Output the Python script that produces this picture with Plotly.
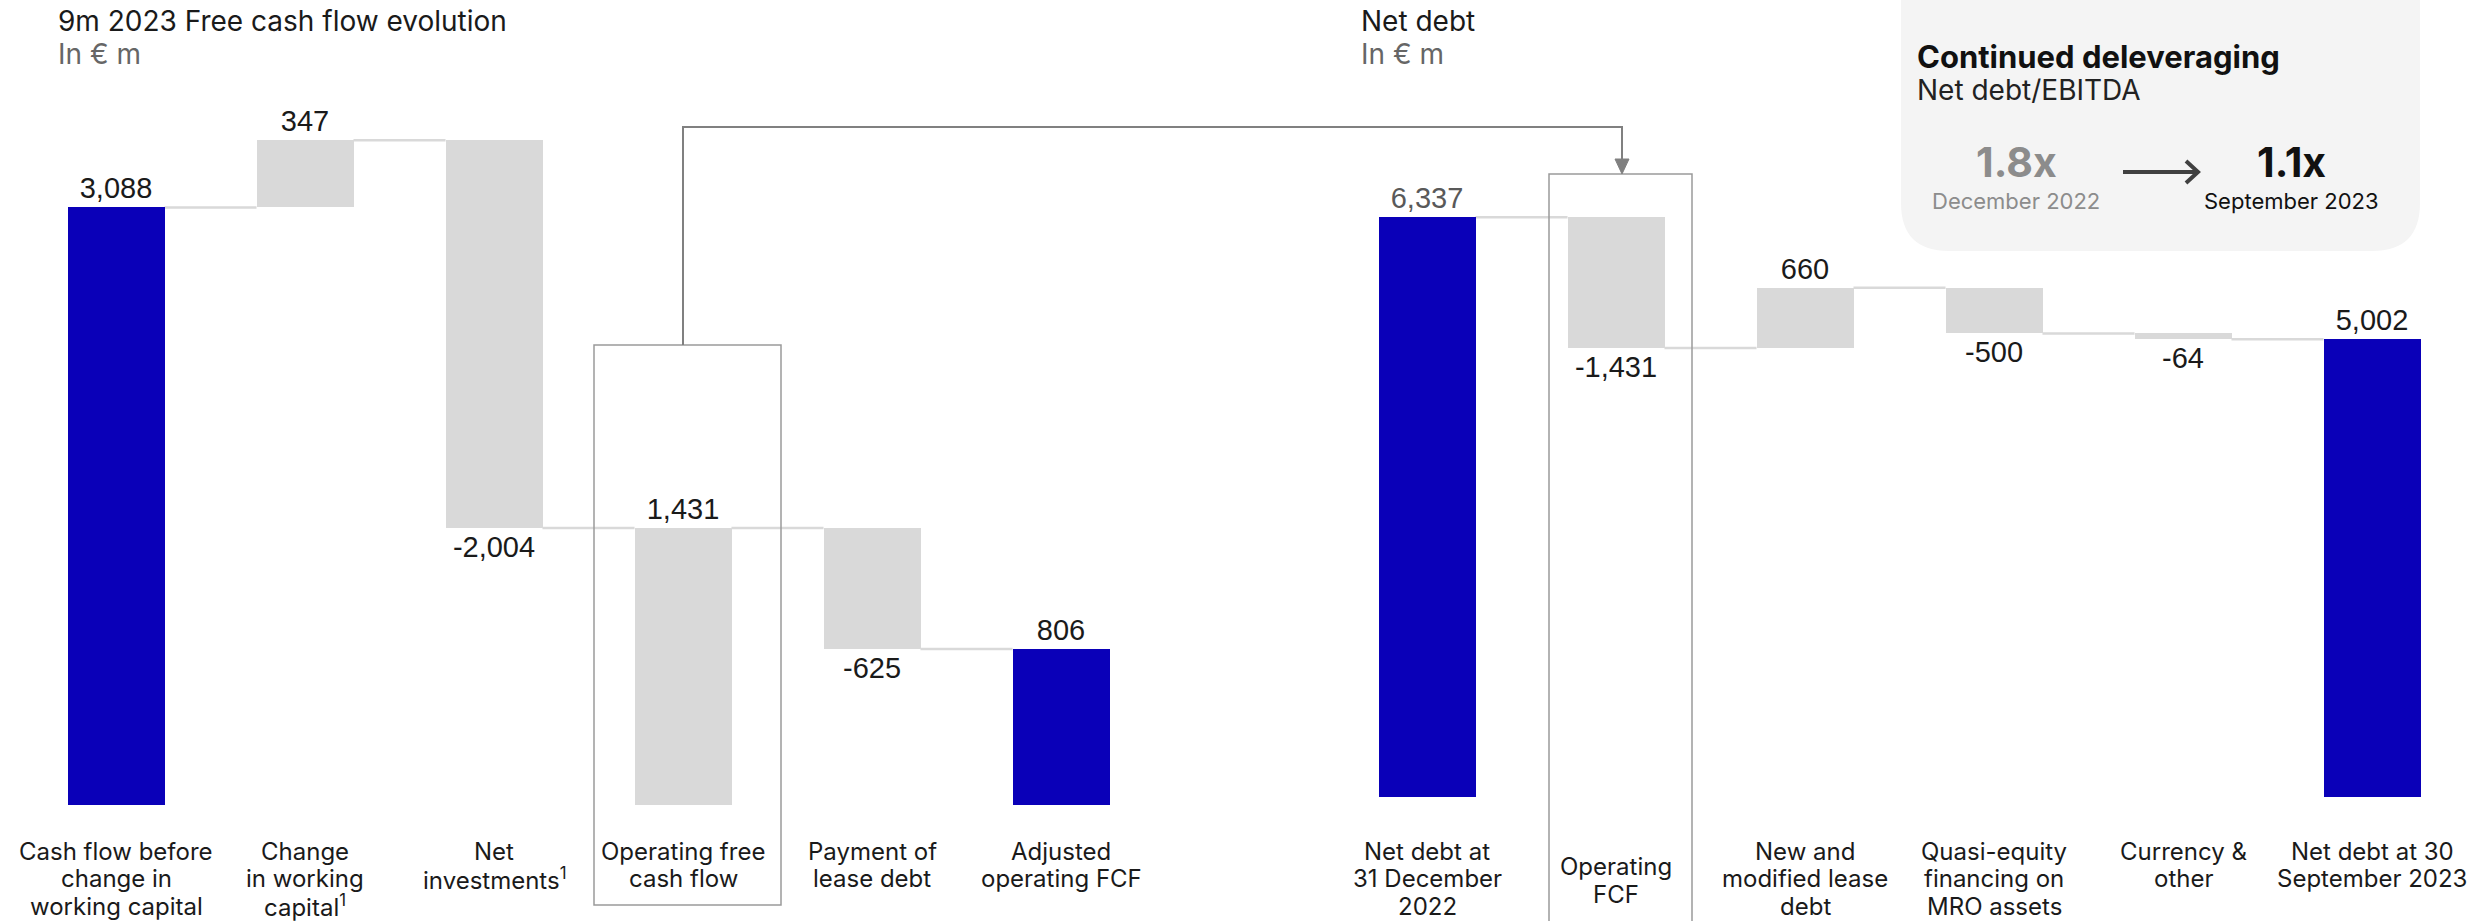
import plotly.graph_objects as go

# ---------------- data ----------------
fcf_labels = [
    "Cash flow before<br>change in<br>working capital",
    "Change<br>in working<br>capital<sup>1</sup>",
    "Net<br>investments<sup>1</sup>",
    "Operating free<br>cash flow",
    "Payment of<br>lease debt",
    "Adjusted<br>operating FCF",
]
fcf_values = [3088, 347, -2004, 1431, -625, 806]
fcf_measures = ["total", "relative", "relative", "total", "relative", "total"]

nd_labels = [
    "Net debt at<br>31 December<br>2022",
    "Operating<br>FCF",
    "New and<br>modified lease<br>debt",
    "Quasi-equity<br>financing on<br>MRO assets",
    "Currency &<br>other",
    "Net debt at 30<br>September 2023",
]
nd_values = [6337, -1431, 660, -500, -64, 5002]
nd_measures = ["total", "relative", "relative", "relative", "relative", "total"]

ratio_from, ratio_from_label = "1.8x", "December 2022"
ratio_to, ratio_to_label = "1.1x", "September 2023"

# ---------------- style ----------------
W, H = 2484, 921
BLUE = "#0A00B8"
GREY = "#D9D9D9"
fcf_colors = [BLUE, GREY, GREY, GREY, GREY, BLUE]
nd_colors = [BLUE, GREY, GREY, GREY, GREY, BLUE]
VAL_FONT = "Liberation Sans, Arial, sans-serif"
TXT_FONT = "Inter, Open Sans, sans-serif"
BAR_W = 0.513
LINE_H = 27.5


def PX(x):
    return x / W


def PY(y):
    return 1 - y / H


def waterfall(values, measures):
    bases, heights, ends = [], [], []
    level = 0
    for v, m in zip(values, measures):
        if m == "total":
            bases.append(0)
            level = v
        else:
            bases.append(level)
            level += v
        heights.append(v)
        ends.append(level)
    return bases, heights, ends


fig = go.Figure()
shapes = []
annotations = []

panels = [
    (fcf_labels, fcf_values, fcf_measures, fcf_colors, "x", "y", [False] * 6),
    (nd_labels, nd_values, nd_measures, nd_colors, "x2", "y2", [True] + [False] * 5),
]

for labels, values, measures, colors, xa, ya, greytext in panels:
    bases, heights, ends = waterfall(values, measures)
    idx = list(range(len(values)))
    fig.add_trace(go.Bar(
        x=idx, y=heights, base=bases, width=BAR_W,
        marker=dict(color=colors, line=dict(width=0)),
        text=[f"{v:,}" for v in values],
        textposition="outside", constraintext="none", cliponaxis=False,
        textfont=dict(family=VAL_FONT, size=29,
                      color=["#595959" if g else "#1A1A1A" for g in greytext]),
        xaxis=xa, yaxis=ya, hoverinfo="skip",
    ))
    # connectors
    for i in range(len(values) - 1):
        shapes.append(dict(type="line", xref=xa, yref=ya,
                           x0=i + BAR_W / 2, x1=i + 1 - BAR_W / 2,
                           y0=ends[i], y1=ends[i],
                           line=dict(color=GREY, width=2.5), layer="below"))
    # category labels, one annotation per line
    for i, lab in enumerate(labels):
        lines = lab.split("<br>")
        centred = (xa == "x2" and i == 1)
        y_first = 866.5 if centred else 851
        for k, ln in enumerate(lines):
            annotations.append(dict(
                x=i, xref=xa, yref="paper", y=PY(y_first + k * LINE_H),
                yanchor="middle", text=ln, showarrow=False, align="center",
                font=dict(family=TXT_FONT, size=24, color="#1A1A1A"),
            ))

# highlight boxes
shapes.append(dict(type="rect", xref="paper", yref="paper",
                   x0=PX(594), x1=PX(781), y0=PY(905), y1=PY(345),
                   line=dict(color="#9A9A9A", width=1.5), layer="above"))
shapes.append(dict(type="rect", xref="paper", yref="paper",
                   x0=PX(1549), x1=PX(1692), y0=PY(940), y1=PY(174),
                   line=dict(color="#9A9A9A", width=1.5), layer="above"))
# elbow connector with filled arrow head
shapes.append(dict(type="path", xref="paper", yref="paper",
                   path=f"M {PX(683)},{PY(345)} L {PX(683)},{PY(127)} L {PX(1622)},{PY(127)} L {PX(1622)},{PY(162)}",
                   line=dict(color="#808080", width=2)))
shapes.append(dict(type="path", xref="paper", yref="paper",
                   path=f"M {PX(1615)},{PY(159)} L {PX(1629)},{PY(159)} L {PX(1622)},{PY(174)} Z",
                   fillcolor="#808080", line=dict(color="#808080", width=1)))

# info box (rounded bottom corners)
bx0, bx1, by0, by1, r = 1901, 2420, -20, 251, 48
path = (f"M {PX(bx0)},{PY(by0)} L {PX(bx1)},{PY(by0)} L {PX(bx1)},{PY(by1 - r)} "
        f"Q {PX(bx1)},{PY(by1)} {PX(bx1 - r)},{PY(by1)} L {PX(bx0 + r)},{PY(by1)} "
        f"Q {PX(bx0)},{PY(by1)} {PX(bx0)},{PY(by1 - r)} Z")
shapes.append(dict(type="path", xref="paper", yref="paper", path=path,
                   fillcolor="#F4F4F4", line=dict(width=0), layer="below"))

# deleveraging arrow
shapes.append(dict(type="line", xref="paper", yref="paper",
                   x0=PX(2123), x1=PX(2196), y0=PY(172), y1=PY(172),
                   line=dict(color="#404040", width=4)))
shapes.append(dict(type="path", xref="paper", yref="paper",
                   path=f"M {PX(2186)},{PY(161)} L {PX(2198)},{PY(172)} L {PX(2186)},{PY(183)}",
                   line=dict(color="#404040", width=4)))


def txt(x, y, s, size, color="#1A1A1A", xanchor="left", bold=False, family=TXT_FONT):
    annotations.append(dict(x=PX(x), y=PY(y), xref="paper", yref="paper",
                            xanchor=xanchor, yanchor="middle", text=s, showarrow=False,
                            font=dict(family=family, size=size, color=color,
                                      weight=700 if bold else 400)))


txt(56, 21, "9m 2023 Free cash flow evolution", 28)
txt(56, 54, "In € m", 28, color="#666666")
txt(1359, 21, "Net debt", 28)
txt(1359, 54, "In € m", 28, color="#666666")
txt(1915, 56, "Continued deleveraging", 31, bold=True, color="#111111")
txt(1915, 90, "Net debt/EBITDA", 28, color="#222222")
txt(2016, 162, ratio_from, 41, color="#8C8C8C", xanchor="center", bold=True)
txt(2016, 201, ratio_from_label, 22, color="#8C8C8C", xanchor="center")
txt(2291, 162, ratio_to, 41, color="#111111", xanchor="center", bold=True)
txt(2291, 201, ratio_to_label, 22, color="#111111", xanchor="center")

step = 189
lx0 = 116 - step / 2
rx0 = 1427 - step / 2
axis_common = dict(visible=False, showgrid=False, zeroline=False, fixedrange=True)
fig.update_layout(
    width=W, height=H, margin=dict(l=0, r=0, t=0, b=0),
    paper_bgcolor="white", plot_bgcolor="white", showlegend=False,
    xaxis=dict(domain=[PX(lx0), PX(lx0 + 6 * step)], range=[-0.5, 5.5], **axis_common),
    xaxis2=dict(domain=[PX(rx0), PX(rx0 + 6 * step)], range=[-0.5, 5.5], anchor="y2", **axis_common),
    yaxis=dict(domain=[0, 1], range=[-(H - 805) / 0.1935, 805 / 0.1935], **axis_common),
    yaxis2=dict(domain=[0, 1], range=[-(H - 797) / 0.0915, 797 / 0.0915], anchor="x2", **axis_common),
    shapes=shapes, annotations=annotations, bargap=0,
)

fig.write_html("out.html", config={"displayModeBar": False},
               post_script="document.body.style.margin='0';document.body.style.overflow='hidden';")
